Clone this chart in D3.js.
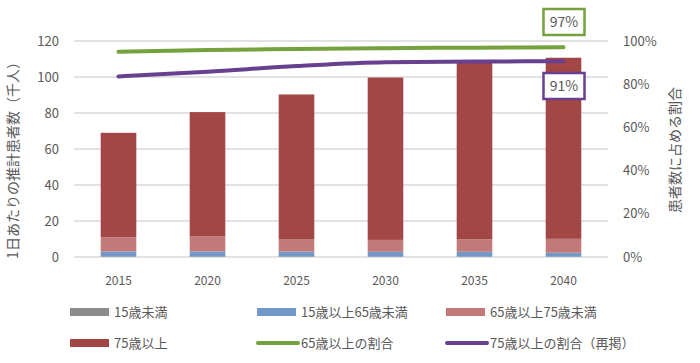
<!DOCTYPE html>
<html>
<head>
<meta charset="utf-8">
<script src="https://cdn.jsdelivr.net/npm/d3@7"></script>
<style>
  body { margin: 0; background: #fff; }
  svg text { font-family: "Noto Sans CJK JP", "Noto Sans", sans-serif; fill: #595959; }
</style>
</head>
<body>
<div id="chart"></div>
<script>
// データ ------------------------------------------------------------------------
const years = ['2015', '2020', '2025', '2030', '2035', '2040'];
const under15 = [0.3, 0.3, 0.3, 0.2, 0.2, 0.2];
const age15to65 = [2.8, 2.8, 2.7, 2.7, 2.7, 2.2];
const age65to75 = [7.9, 8.3, 7.0, 6.6, 7.0, 7.7];
const over75 = [58.0, 69.1, 80.3, 90.2, 99.5, 100.6];
const ratio65 = [95.0, 95.8, 96.3, 96.7, 96.9, 97.1];
const ratio75 = [83.6, 85.8, 88.4, 90.2, 90.5, 90.6];
const leftTicks = [0, 20, 40, 60, 80, 100, 120];
const rightTicks = [0, 20, 40, 60, 80, 100];

const stackKeys = ['u15', 'a15', 'a65', 'a75'];
const stackNames = {u15: '15歳未満', a15: '15歳以上65歳未満', a65: '65歳以上75歳未満', a75: '75歳以上'};
const colors = {u15: '#8c8c8c', a15: '#7298c8', a65: '#c17a79', a75: '#a24646', r65: '#75a23f', r75: '#67408f'};

const rows = years.map((y, i) => ({year: y, u15: under15[i], a15: age15to65[i], a65: age65to75[i], a75: over75[i]}));

// SVG ---------------------------------------------------------------------------
const width = 700, height = 363;
const plot = {left: 74, right: 608, top: 41, bottom: 257};
const svg = d3.select('#chart').append('svg')
  .attr('width', width)
  .attr('height', height);

const x = d3.scaleBand().domain(years).range([plot.left, plot.right]).paddingInner(0.6).paddingOuter(0.3);
const y = d3.scaleLinear().domain([0, 120]).range([plot.bottom, plot.top]);
const y2 = d3.scaleLinear().domain([0, 100]).range([plot.bottom, plot.top]);

// グリッド
svg.append('g')
  .selectAll('line')
  .data(leftTicks)
  .enter()
  .append('line')
  .attr('x1', plot.left)
  .attr('x2', plot.right)
  .attr('y1', d => y(d))
  .attr('y2', d => y(d))
  .attr('stroke', '#d9d9d9')
  .attr('stroke-width', 1.5);

// 軸
const leftAxis = svg.append('g')
  .attr('transform', 'translate(' + (plot.left - 15) + ',0)')
  .call(d3.axisLeft(y).tickValues(leftTicks).tickSize(0).tickPadding(0));
leftAxis.select('.domain').remove();
leftAxis.selectAll('text').attr('font-size', 13).attr('fill', '#595959');

const rightAxis = svg.append('g')
  .attr('transform', 'translate(' + (plot.right + 15) + ',0)')
  .call(d3.axisRight(y2).tickValues(rightTicks).tickFormat(d => d + '%').tickSize(0).tickPadding(0));
rightAxis.select('.domain').remove();
rightAxis.selectAll('text').attr('font-size', 13).attr('fill', '#595959');

const bottomAxis = svg.append('g')
  .attr('transform', 'translate(0,' + (plot.bottom + 19) + ')')
  .call(d3.axisBottom(x).tickSize(0).tickPadding(0));
bottomAxis.select('.domain').remove();
bottomAxis.selectAll('text').attr('font-size', 12).attr('fill', '#595959');

// 軸タイトル
svg.append('text')
  .attr('transform', 'translate(18,157) rotate(-90)')
  .attr('text-anchor', 'middle')
  .attr('font-size', 14)
  .text('1日あたりの推計患者数（千人）');
svg.append('text')
  .attr('transform', 'translate(680,150) rotate(-90)')
  .attr('text-anchor', 'middle')
  .attr('font-size', 14)
  .text('患者数に占める割合');

// 積み上げ棒
const series = d3.stack().keys(stackKeys)(rows);
svg.append('g')
  .selectAll('g')
  .data(series)
  .enter()
  .append('g')
  .attr('fill', d => colors[d.key])
  .selectAll('rect')
  .data(d => d)
  .enter()
  .append('rect')
  .attr('x', d => x(d.data.year))
  .attr('width', x.bandwidth())
  .attr('y', d => y(d[1]))
  .attr('height', d => y(d[0]) - y(d[1]));

// 割合の線
const line = d3.line()
  .x((d, i) => x(years[i]) + x.bandwidth() / 2)
  .y(d => y2(d))
  .curve(d3.curveMonotoneX);
[[ratio65, 'r65'], [ratio75, 'r75']].forEach(([vals, key]) => {
  svg.append('path')
    .attr('d', line(vals))
    .attr('fill', 'none')
    .attr('stroke', colors[key])
    .attr('stroke-width', 4)
    .attr('stroke-linecap', 'round');
});

// 注記ボックス
const lastX = x(years[years.length - 1]) + x.bandwidth() / 2;
const notes = [
  {val: ratio65[ratio65.length - 1], key: 'r65', cy: 22},
  {val: ratio75[ratio75.length - 1], key: 'r75', cy: 86}
];
notes.forEach(n => {
  const g = svg.append('g').attr('transform', 'translate(' + lastX + ',' + n.cy + ')');
  g.append('rect')
    .attr('x', -20)
    .attr('y', -13)
    .attr('width', 41)
    .attr('height', 26)
    .attr('fill', '#fff')
    .attr('stroke', colors[n.key])
    .attr('stroke-width', 2.5);
  g.append('text')
    .attr('x', 0.5)
    .attr('y', 5)
    .attr('text-anchor', 'middle')
    .attr('font-size', 14)
    .attr('fill', '#404040')
    .text(Math.round(n.val) + '%');
});

// 凡例
const legend = [
  {name: stackNames.u15, key: 'u15', type: 'rect', col: 0, row: 0},
  {name: stackNames.a15, key: 'a15', type: 'rect', col: 1, row: 0},
  {name: stackNames.a65, key: 'a65', type: 'rect', col: 2, row: 0},
  {name: stackNames.a75, key: 'a75', type: 'rect', col: 0, row: 1},
  {name: '65歳以上の割合', key: 'r65', type: 'line', col: 1, row: 1},
  {name: '75歳以上の割合（再掲）', key: 'r75', type: 'line', col: 2, row: 1}
];
const colX = [70, 257, 446];
const rowY = [312, 343];
const lg = svg.append('g')
  .selectAll('g')
  .data(legend)
  .enter()
  .append('g')
  .attr('transform', d => 'translate(' + colX[d.col] + ',' + rowY[d.row] + ')');
lg.filter(d => d.type === 'rect')
  .append('rect')
  .attr('x', 0)
  .attr('y', -4)
  .attr('width', 39)
  .attr('height', 8)
  .attr('fill', d => colors[d.key]);
lg.filter(d => d.type === 'line')
  .append('line')
  .attr('x1', 1)
  .attr('x2', 41)
  .attr('stroke', d => colors[d.key])
  .attr('stroke-width', 4)
  .attr('stroke-linecap', 'round');
lg.append('text')
  .attr('x', 44)
  .attr('y', 5)
  .attr('font-size', 13)
  .text(d => d.name);
</script>
</body>
</html>
